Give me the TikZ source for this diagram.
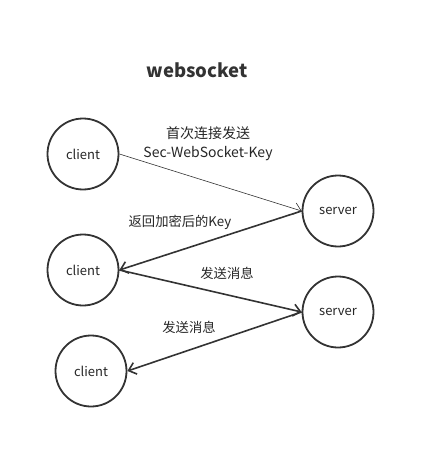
\documentclass[tikz,border=0pt]{standalone}
\usepackage{fontspec}
\setmainfont{Noto Sans CJK SC}
\usetikzlibrary{arrows.meta}

\begin{document}
\begin{tikzpicture}[x=1pt, y=-1pt,
	peer/.style={draw=black!80, line width=1.8pt, circle, minimum size=71pt, inner sep=0, font=\fontsize{13}{15}\selectfont, text=black!85},
	msg/.style={black!85, font=\fontsize{13.3}{19}\selectfont, align=center},
	link/.style={-{Straight Barb[length=7pt, width=12pt]}, black!80, line width=1.6pt},
	every node/.style={inner sep=0}
	]
	\useasboundingbox (0,0) rectangle (435,468);
	
	\node (title) at (197,70) [font=\fontsize{18.5}{20}\selectfont\bfseries, black!80] {websocket};
	
	\node (c1) at (83,154) [peer] {client};
	\node (s1) at (338,211) [peer] {server};
	\node (c2) at (83,270) [peer] {client};
	\node (s2) at (338,312) [peer] {server};
	\node (c3) at (91,371) [peer] {client};
	
	\draw [link, line width=.6pt] (c1.east) -- (s1.west);
	\draw [link] (s1.west) -- (c2.east);
	\draw [link] (c2.east) -- (s2.west);
	\draw [link] (s2.west) -- (c3.east);
	
	\node (l1) at (208,144) [msg, font=\fontsize{14}{19}\selectfont] {首次连接发送\\Sec-WebSocket-Key};
	\node (l2) at (180,222) [msg] {返回加密后的Key};
	\node (l3) at (227,273) [msg] {发送消息};
	\node (l4) at (189,327) [msg] {发送消息};
\end{tikzpicture}
\end{document}
